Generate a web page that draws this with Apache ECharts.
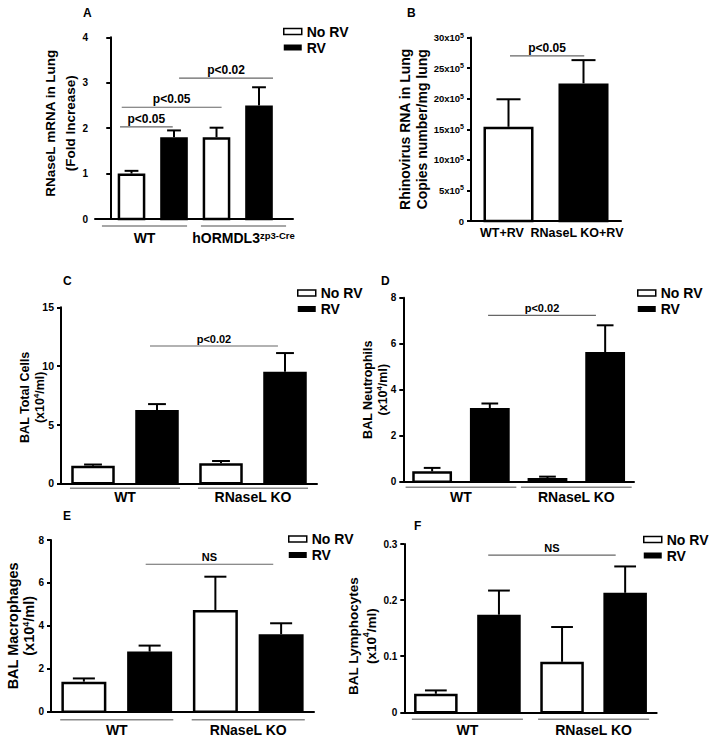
<!DOCTYPE html>
<html><head><meta charset="utf-8">
<script src="https://cdn.jsdelivr.net/npm/echarts@6/dist/echarts.min.js"></script>
<style>html,body{margin:0;padding:0;background:#fff}#c{width:714px;height:744px}</style>
</head><body><div id="c"></div>
<script>
const FONT = '"Liberation Sans", Arial, Helvetica, sans-serif';

// ---------------- data ----------------
// Panel A
const aGroups = ['WT', 'hORMDL3'];
const aGroupSup = ['', 'zp3-Cre'];
const aNoRV = [1.0, 1.8];
const aNoRVErr = [0.06, 0.21];
const aRV = [1.8, 2.5];
const aRVErr = [0.15, 0.4];
const aYTicks = [0, 1, 2, 3, 4];
const aSig = [[0.23, 1.47, 2.03, 'p<0.05'], [0.27, 2.62, 2.46, 'p<0.05'], [1.62, 3.83, 3.10, 'p<0.02']];

// Panel B (values in x10^5 copies)
const bCategories = ['WT+RV', 'RNaseL KO+RV'];
const bValues = [15.4, 22.5];
const bErr = [4.5, 3.8];
const bYTicks = [0, 5, 10, 15, 20, 25, 30];
const bSig = [[0.52, 1.51, 27.0, 'p<0.05']];

// Panel C
const cGroups = ['WT', 'RNaseL KO'];
const cNoRV = [1.5, 1.7];
const cNoRVErr = [0.1, 0.2];
const cRV = [6.25, 9.5];
const cRVErr = [0.5, 1.6];
const cYTicks = [0, 5, 10, 15];
const cSig = [[1.39, 3.39, 11.7, 'p<0.02']];

// Panel D
const dGroups = ['WT', 'RNaseL KO'];
const dNoRV = [0.45, 0.16];
const dNoRVErr = [0.15, 0.06];
const dRV = [3.2, 5.64];
const dRVErr = [0.2, 1.16];
const dYTicks = [0, 2, 4, 6, 8];
const dSig = [[1.47, 3.34, 7.23, 'p<0.02']];

// Panel E
const eGroups = ['WT', 'RNaseL KO'];
const eNoRV = [1.4, 4.74];
const eNoRVErr = [0.15, 1.55];
const eRV = [2.8, 3.61];
const eRVErr = [0.28, 0.51];
const eYTicks = [0, 2, 4, 6, 8];
const eSig = [[1.44, 3.38, 6.87, 'NS']];

// Panel F
const fGroups = ['WT', 'RNaseL KO'];
const fNoRV = [0.033, 0.09];
const fNoRVErr = [0.006, 0.062];
const fRV = [0.174, 0.213];
const fRVErr = [0.043, 0.047];
const fYTicks = [0, 0.1, 0.2, 0.3];
const fSig = [[1.33, 3.35, 0.28, 'NS']];

const legendNames = ['No RV', 'RV'];

// ---------------- layout ----------------
const SUP4 = [['t', '(x10'], ['s', '4'], ['t', '/ml)']];
const panels = [
  { title: 'A', tPos: [83, 7], grid: { left: 95, top: 37.3, width: 198, height: 181.7 }, xMin: -0.359, xMax: 4.3,
    groups: aGroups, groupSup: aGroupSup, noRV: aNoRV, noRVErr: aNoRVErr, rv: aRV, rvErr: aRVErr, ticks: aYTicks, sig: aSig,
    barW: 0.65, capFrac: 0.5, tickFont: 10, nameLines: [[['t', 'RNaseL mRNA in Lung']], [['t', '(Fold Increase)']]],
    nameFont: 13.5, nameLH: 20, nameGap: 15, namePad: [0, 0, 0, 10], labelMargin: 11, labelFont: 14, underOff: 7, underFrac: 0.43,
    sigFont: 12, legend: [283, 24.5] },
  { title: 'B', tPos: [407, 7], grid: { left: 471, top: 37.5, width: 150, height: 183.5 }, xMin: 0, xMax: 2,
    cats: bCategories, values: bValues, err: bErr, ticks: bYTicks, sig: bSig, sup5: true,
    barW: 0.667, capFrac: 0.48, tickFont: 9.5, nameLines: [[['t', 'Rhinovirus RNA in Lung']], [['t', 'Copies number/mg lung']]],
    nameFont: 14, nameLH: 17, nameGap: 41, namePad: [0, 0, 0, 0], labelMargin: 4, labelFont: 12.5, labelPad: [0, 13, 0, 0],
    sigFont: 12 },
  { title: 'C', tPos: [63, 275], grid: { left: 61, top: 307.3, width: 256, height: 176 }, xMin: 0, xMax: 4,
    groups: cGroups, noRV: cNoRV, noRVErr: cNoRVErr, rv: cRV, rvErr: cRVErr, ticks: cYTicks, sig: cSig,
    barW: 0.68, capFrac: 0.41, tickFont: 10.5, nameLines: [[['t', 'BAL Total Cells']], SUP4],
    nameFont: 12.5, nameLH: 15, nameGap: 14, namePad: [0, 4, 0, 0], labelMargin: 6, labelFont: 14, underOff: 5, underFrac: 0.43,
    sigFont: 11, legend: [297, 286] },
  { title: 'D', tPos: [381, 275], grid: { left: 403.3, top: 297.7, width: 230.7, height: 184 }, xMin: 0, xMax: 4,
    groups: dGroups, noRV: dNoRV, noRVErr: dNoRVErr, rv: dRV, rvErr: dRVErr, ticks: dYTicks, sig: dSig,
    barW: 0.69, capFrac: 0.42, tickFont: 10, nameLines: [[['t', 'BAL Neutrophils']], SUP4],
    nameFont: 12.5, nameLH: 15, nameGap: 13, namePad: [0, 0, 0, 0], labelMargin: 7, labelFont: 14, underOff: 5.6, underFrac: 0.48,
    sigFont: 11, legend: [637, 286] },
  { title: 'E', tPos: [63, 510], grid: { left: 51, top: 540, width: 263, height: 171.7 }, xMin: 0, xMax: 4,
    groups: eGroups, noRV: eNoRV, noRVErr: eNoRVErr, rv: eRV, rvErr: eRVErr, ticks: eYTicks, sig: eSig,
    barW: 0.684, capFrac: 0.49, tickFont: 10, nameLines: [[['t', 'BAL Macrophages']], SUP4],
    nameFont: 14.5, nameLH: 16, nameGap: 14, namePad: [0, 0, 0, 0], labelMargin: 10, labelFont: 14, underOff: 8, underFrac: 0.43,
    sigFont: 11, legend: [288, 532] },
  { title: 'F', tPos: [414, 520], grid: { left: 404.3, top: 544, width: 252.4, height: 168.3 }, xMin: 0, xMax: 4,
    groups: fGroups, noRV: fNoRV, noRVErr: fNoRVErr, rv: fRV, rvErr: fRVErr, ticks: fYTicks, sig: fSig,
    barW: 0.69, capFrac: 0.5, tickFont: 10, nameLines: [[['t', 'BAL Lymphocytes']], SUP4],
    nameFont: 13.5, nameLH: 18, nameGap: 24, namePad: [0, 16, 0, 0], labelMargin: 10, labelFont: 14, underOff: 7, underFrac: 0.44,
    sigFont: 11, legend: [643, 532.5] }
];

// ---------------- render helpers ----------------
function barRender(fill, barW, capFrac) {
  return function (params, api) {
    const x = api.value(0), y = api.value(1), e = api.value(2);
    const base = api.coord([x, 0]), top = api.coord([x, y]), et = api.coord([x, y + e]);
    const w = api.size([barW, 0])[0];
    const cw = w * capFrac;
    const lw = 2.5;
    return { type: 'group', children: [
      { type: 'line', shape: { x1: top[0], y1: top[1], x2: et[0], y2: et[1] }, style: { stroke: '#000', lineWidth: 2 } },
      { type: 'line', shape: { x1: et[0] - cw / 2, y1: et[1], x2: et[0] + cw / 2, y2: et[1] }, style: { stroke: '#000', lineWidth: 2 } },
      { type: 'rect', shape: { x: base[0] - w / 2 + lw / 2, y: top[1] + lw / 2, width: w - lw, height: base[1] - top[1] - lw / 2 },
        style: { fill: fill, stroke: '#000', lineWidth: lw } }
    ] };
  };
}
function sigRender(sig, fontSize) {
  return function (params, api) {
    const s = sig[params.dataIndex];
    const p1 = api.coord([s[0], s[2]]), p2 = api.coord([s[1], s[2]]);
    return { type: 'group', children: [
      { type: 'line', shape: { x1: p1[0], y1: p1[1], x2: p2[0], y2: p2[1] }, style: { stroke: '#666', lineWidth: 1.2 } },
      { type: 'text', style: { text: s[3], x: (p1[0] + p2[0]) / 2, y: p1[1] - 2, align: 'center', verticalAlign: 'bottom',
        fontSize: fontSize, fontWeight: 'bold', fontFamily: FONT, fill: '#000' } }
    ] };
  };
}
function underRender(halfUnits, off) {
  return function (params, api) {
    const c = api.value(0);
    const p = api.coord([c, 0]);
    const hw = api.size([halfUnits, 0])[0];
    return { type: 'line', shape: { x1: p[0] - hw, y1: p[1] + off, x2: p[0] + hw, y2: p[1] + off }, style: { stroke: '#888', lineWidth: 1.5 } };
  };
}
function richName(lines) {
  return lines.map(l => l.map(seg => '{' + seg[0] + '|' + seg[1] + '}').join('')).join('\n');
}

const option = { animation: false, title: [], legend: [], grid: [], xAxis: [], yAxis: [], series: [] };

panels.forEach((p, i) => {
  option.title.push({ text: p.title, left: p.tPos[0], top: p.tPos[1], padding: 0,
    textStyle: { fontSize: 12, fontWeight: 'bold', fontFamily: FONT, color: '#000' } });
  option.grid.push(Object.assign({ containLabel: false, outerBoundsMode: 'none' }, p.grid));
  option.xAxis.push({ type: 'value', gridIndex: i, min: p.xMin, max: p.xMax, position: 'bottom',
    axisLine: { show: true, onZero: false, lineStyle: { color: '#000', width: 2 } },
    axisTick: { show: false }, axisLabel: { show: false }, splitLine: { show: false } });
  const cats = p.cats || p.groups;
  const sup = p.groupSup || cats.map(() => '');
  option.xAxis.push({ type: 'category', gridIndex: i, data: cats, position: 'bottom',
    axisLine: { show: false }, axisTick: { show: false }, splitLine: { show: false },
    axisLabel: { interval: 0, margin: p.labelMargin, padding: p.labelPad || 0, hideOverlap: false,
      formatter: (v, idx) => '{m|' + v + '}' + (sup[idx] ? '{s|' + sup[idx] + '}' : ''),
      rich: { m: { fontSize: p.labelFont, fontWeight: 'bold', fontFamily: FONT, color: '#000', lineHeight: 16 },
              s: { fontSize: 9.5, fontWeight: 'bold', fontFamily: FONT, color: '#000', lineHeight: 10, verticalAlign: 'top' } } } });
  const ticks = p.ticks;
  option.yAxis.push({ type: 'value', gridIndex: i, min: ticks[0], max: ticks[ticks.length - 1], interval: ticks[1] - ticks[0],
    axisLine: { show: true, lineStyle: { color: '#000', width: 2 } },
    axisTick: { show: true, length: 4, lineStyle: { color: '#000', width: 2 } },
    splitLine: { show: false },
    axisLabel: { margin: 7, color: '#000',
      formatter: p.sup5 ? (v => v === 0 ? '{n|0}' : '{n|' + v + 'x10}{s|5}') : (v => '{n|' + v + '}'),
      rich: { n: { fontSize: p.tickFont, fontWeight: 'bold', fontFamily: FONT, color: '#000', lineHeight: 12 },
              s: { fontSize: 7, fontWeight: 'bold', fontFamily: FONT, color: '#000', lineHeight: 8, verticalAlign: 'top' } } },
    name: richName(p.nameLines), nameLocation: 'middle', nameGap: p.nameGap, nameRotate: 90, nameMoveOverlap: false,
    nameTextStyle: { padding: p.namePad,
      rich: { t: { fontSize: p.nameFont, fontWeight: 'bold', fontFamily: FONT, color: '#000', lineHeight: p.nameLH },
              s: { fontSize: p.nameFont * 0.62, fontWeight: 'bold', fontFamily: FONT, color: '#000', lineHeight: p.nameFont * 0.7, verticalAlign: 'top' } } } });

  const xi = 2 * i;
  if (p.values) {
    option.series.push({ type: 'custom', name: cats[0], coordinateSystem: 'cartesian2d', xAxisIndex: xi, yAxisIndex: i, clip: false,
      renderItem: barRender('#fff', p.barW, p.capFrac), encode: { x: 0, y: 1 },
      data: [[0.5, p.values[0], p.err[0]]] });
    option.series.push({ type: 'custom', name: cats[1], coordinateSystem: 'cartesian2d', xAxisIndex: xi, yAxisIndex: i, clip: false,
      renderItem: barRender('#000', p.barW, p.capFrac), encode: { x: 0, y: 1 },
      data: [[1.5, p.values[1], p.err[1]]] });
  } else {
    option.series.push({ type: 'custom', name: legendNames[0], coordinateSystem: 'cartesian2d', xAxisIndex: xi, yAxisIndex: i, clip: false,
      itemStyle: { color: '#fff', borderColor: '#000', borderWidth: 1.5 },
      renderItem: barRender('#fff', p.barW, p.capFrac), encode: { x: 0, y: 1 },
      data: p.noRV.map((v, g) => [g * 2 + 0.5, v, p.noRVErr[g]]) });
    option.series.push({ type: 'custom', name: legendNames[1], coordinateSystem: 'cartesian2d', xAxisIndex: xi, yAxisIndex: i, clip: false,
      itemStyle: { color: '#000' },
      renderItem: barRender('#000', p.barW, p.capFrac), encode: { x: 0, y: 1 },
      data: p.rv.map((v, g) => [g * 2 + 1.5, v, p.rvErr[g]]) });
    const span = p.xMax - p.xMin;
    option.series.push({ type: 'custom', name: 'groups' + i, coordinateSystem: 'cartesian2d', xAxisIndex: xi, yAxisIndex: i, clip: false,
      silent: true, renderItem: underRender(span / 2 * p.underFrac, p.underOff), encode: { x: 0, y: 1 },
      data: cats.map((c, g) => [p.xMin + span * (2 * g + 1) / 4, 0]) });
  }
  option.series.push({ type: 'custom', name: 'sig' + i, coordinateSystem: 'cartesian2d', xAxisIndex: xi, yAxisIndex: i, clip: false,
    silent: true, renderItem: sigRender(p.sig, p.sigFont), encode: { x: 0, y: 2 },
    data: p.sig.map(s => [s[0], s[1], s[2]]) });

  if (p.legend) {
    option.legend.push({ orient: 'vertical', left: p.legend[0], top: p.legend[1], padding: 0, itemGap: 2,
      itemWidth: 18, itemHeight: 6, icon: 'rect', selectedMode: false,
      textStyle: { fontSize: 14, fontWeight: 'bold', fontFamily: FONT, color: '#000', lineHeight: 14 },
      data: [{ name: legendNames[0], itemStyle: { color: '#fff', borderColor: '#000', borderWidth: 1.5 } },
             { name: legendNames[1], itemStyle: { color: '#000', borderColor: '#000', borderWidth: 0 } }] });
  }
});

const chart = echarts.init(document.getElementById('c'), null, { renderer: 'svg', width: 714, height: 744 });
chart.setOption(option);
</script>
</body></html>
